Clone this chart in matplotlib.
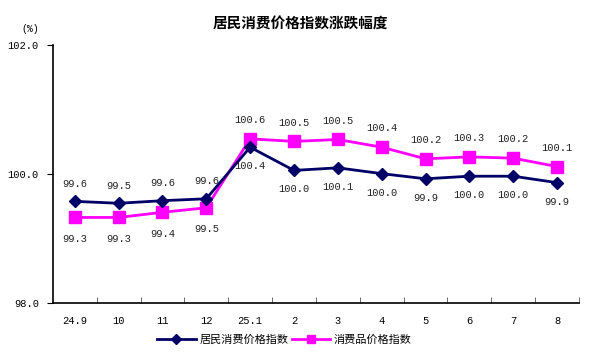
import matplotlib
matplotlib.use("Agg")
import matplotlib.pyplot as plt

plt.rcParams['font.family'] = ['Noto Sans CJK SC', 'DejaVu Sans']

# data
months = ["24.9", "10", "11", "12", "25.1", "2", "3", "4", "5", "6", "7", "8"]
cpi = [99.57, 99.54, 99.58, 99.61, 100.41, 100.05, 100.09, 100.0, 99.92, 99.96, 99.96, 99.86]
cpi_labels = ["99.6", "99.5", "99.6", "99.6", "100.4", "100.0", "100.1", "100.0", "99.9", "100.0", "100.0", "99.9"]
goods = [99.32, 99.32, 99.40, 99.47, 100.54, 100.50, 100.53, 100.41, 100.23, 100.26, 100.24, 100.11]
goods_labels = ["99.3", "99.3", "99.4", "99.5", "100.6", "100.5", "100.5", "100.4", "100.2", "100.3", "100.2", "100.1"]

navy = "#000066"
pink = "#ff00ff"
numfont = "Liberation Mono"

fig = plt.figure(figsize=(6, 3.58), dpi=100)
ax = fig.add_axes([0.088, 0.155, 0.877, 0.72])

x = list(range(len(months)))
ax.plot(x, cpi, color=navy, lw=2, marker="D", ms=6, label="居民消费价格指数", zorder=3)
ax.plot(x, goods, color=pink, lw=2, marker="s", ms=8, label="消费品价格指数", zorder=2)

# data labels: first four months cpi above / goods below, then swapped
for i in x:
    if i < 4:
        ax.annotate(cpi_labels[i], (i, cpi[i]), xytext=(0, 9), textcoords="offset points",
                    ha="center", va="bottom", fontsize=7.5, family=numfont, color="#222222")
        ax.annotate(goods_labels[i], (i, goods[i]), xytext=(0, -12), textcoords="offset points",
                    ha="center", va="top", fontsize=7.5, family=numfont, color="#222222")
    else:
        ax.annotate(cpi_labels[i], (i, cpi[i]), xytext=(0, -10), textcoords="offset points",
                    ha="center", va="top", fontsize=7.5, family=numfont, color="#222222")
        ax.annotate(goods_labels[i], (i, goods[i]), xytext=(0, 10), textcoords="offset points",
                    ha="center", va="bottom", fontsize=7.5, family=numfont, color="#222222")

ax.set_xlim(-0.5, len(months) - 0.5)
ax.set_ylim(98.0, 102.0)
ax.set_yticks([98.0, 100.0, 102.0])
ax.set_yticklabels(["98.0", "100.0", "102.0"], family=numfont, fontsize=7.5)
ax.set_xticks(x)
ax.set_xticklabels(months, family=numfont, fontsize=7.5)
ax.set_xticks([i + 0.5 for i in range(len(months))], minor=True)
ax.tick_params(axis="x", which="major", length=0, pad=10)
ax.tick_params(axis="x", which="minor", direction="in", length=4, color="#555555")
ax.tick_params(axis="y", direction="out", length=4, pad=6)

for s in ["top", "right"]:
    ax.spines[s].set_visible(False)
ax.spines["left"].set_linewidth(1.2)
ax.spines["bottom"].set_linewidth(1.2)

fig.text(0.5, 0.935, "居民消费价格指数涨跌幅度", ha="center", va="center", fontsize=10.5, weight="bold")
fig.text(0.05, 0.92, "(%)", ha="center", va="center", fontsize=7, family=numfont)

ax.legend(loc="upper center", bbox_to_anchor=(0.44, -0.085), ncol=2, frameon=False,
          fontsize=8, handlelength=3.5, columnspacing=0.3, handletextpad=0.3, markerscale=0.8)

fig.savefig("out.png", dpi=100)
